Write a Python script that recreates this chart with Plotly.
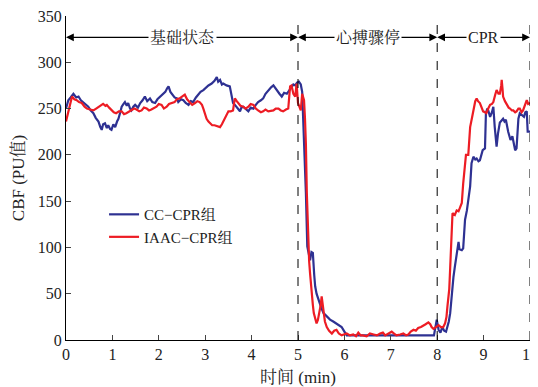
import plotly.graph_objects as go

# ---- data ----
cc_t = [0.00,0.05,0.10,0.16,0.22,0.27,0.32,0.37,0.42,0.48,0.53,0.59,0.64,0.70,0.74,0.77,0.80,0.84,0.88,0.91,
        0.95,0.98,1.02,1.06,1.10,1.13,1.17,1.20,1.24,1.27,1.31,1.34,1.38,1.41,1.45,1.49,1.55,1.60,1.65,1.70,
        1.75,1.81,1.86,1.92,1.97,2.03,2.08,2.14,2.18,2.21,2.25,2.28,2.34,2.39,2.42,2.48,2.53,2.58,2.64,2.69,
        2.74,2.80,2.85,2.90,2.96,3.02,3.07,3.14,3.20,3.25,3.28,3.32,3.36,3.39,3.46,3.53,3.57,3.60,3.64,3.68,
        3.72,3.75,3.78,3.82,3.88,3.93,3.98,4.04,4.09,4.14,4.20,4.25,4.30,4.36,4.42,4.47,4.51,4.54,4.60,4.65,
        4.70,4.76,4.81,4.86,4.90,4.94,4.98,5.02,5.06,5.09,5.11,5.13,5.15,5.17,5.20,5.23,5.26,5.29,5.32,5.35,
        5.37,5.40,5.44,5.50,5.55,5.62,5.69,5.76,5.83,5.90,5.94,6.00,6.05,7.93,7.96,7.99,8.03,8.07,8.11,8.15,
        8.19,8.22,8.25,8.28,8.31,8.35,8.38,8.43,8.46,8.48,8.53,8.56,8.60,8.64,8.67,8.71,8.74,8.78,8.82,8.85,
        8.89,8.92,8.98,9.03,9.05,9.08,9.10,9.14,9.18,9.21,9.24,9.28,9.31,9.35,9.37,9.42,9.45,9.48,9.53,9.58,
        9.62,9.64,9.68,9.71,9.75,9.78,9.82,9.87,9.90,9.93,9.95,10.0]
cc_v = [250,259,262,266,262,263,259,257,254,252,248,245,240,236,230,227,233,234,229,232,
        228,227,233,230,236,239,246,252,255,257,253,256,250,248,252,254,251,256,259,263,
        258,261,257,256,260,263,265,268,272,274,268,266,262,261,257,260,259,256,254,258,
        257,262,265,268,270,273,275,277,280,284,279,281,276,277,275,274,265,256,254,252,
        249,247,251,252,249,247,251,250,254,257,259,261,266,270,273,275,272,270,266,263,
        267,266,270,274,276,275,278,279,276,268,241,220,202,159,101,92,86,95,94,70,
        58,50,43,35,29,25,22,20,18,16,14,9,5,5,15,22,11,8,14,10,
        9,14,20,29,50,68,79,94,106,98,97,99,130,140,151,166,191,198,195,196,
        193,194,205,207,245,250,248,241,246,252,230,209,223,235,236,239,236,238,225,216,
        220,216,205,207,239,245,243,241,246,247,225,225]

iaac_t = [0.00,0.03,0.05,0.09,0.13,0.18,0.23,0.28,0.34,0.40,0.45,0.52,0.59,0.65,0.70,0.75,0.80,0.85,0.88,0.93,
          0.98,1.03,1.08,1.14,1.20,1.25,1.30,1.36,1.41,1.47,1.52,1.58,1.63,1.68,1.74,1.79,1.84,1.90,1.95,2.00,
          2.06,2.11,2.17,2.22,2.28,2.34,2.39,2.45,2.50,2.56,2.61,2.67,2.72,2.78,2.83,2.88,2.93,2.96,3.00,3.03,
          3.07,3.10,3.15,3.20,3.26,3.32,3.36,3.39,3.44,3.50,3.55,3.60,3.62,3.64,3.68,3.71,3.76,3.82,3.87,3.93,
          3.98,4.04,4.09,4.14,4.20,4.25,4.30,4.36,4.42,4.47,4.52,4.58,4.63,4.68,4.74,4.79,4.81,4.83,4.86,4.88,
          4.90,4.94,4.97,5.00,5.03,5.06,5.09,5.13,5.15,5.17,5.19,5.22,5.24,5.26,5.29,5.32,5.34,5.37,5.40,5.43,
          5.46,5.49,5.51,5.53,5.55,5.58,5.62,5.67,5.73,5.78,5.83,5.88,5.94,6.00,6.05,6.12,6.19,6.25,6.30,6.35,
          6.40,6.48,6.55,6.63,6.70,6.77,6.83,6.88,6.95,7.02,7.07,7.12,7.20,7.27,7.33,7.38,7.43,7.49,7.54,7.59,
          7.65,7.70,7.75,7.81,7.85,7.88,7.92,7.95,8.00,8.03,8.08,8.13,8.17,8.20,8.22,8.26,8.28,8.30,8.31,8.33,
          8.38,8.42,8.46,8.50,8.53,8.56,8.60,8.62,8.67,8.69,8.71,8.75,8.78,8.82,8.85,8.88,8.92,8.96,8.99,9.03,
          9.06,9.10,9.14,9.18,9.21,9.25,9.28,9.32,9.35,9.38,9.39,9.41,9.42,9.46,9.50,9.54,9.57,9.61,9.64,9.68,
          9.71,9.75,9.78,9.82,9.85,9.89,9.93,9.96,10.0]
iaac_v = [236,242,248,256,263,260,259,257,256,252,250,249,248,250,252,254,255,253,254,251,
          248,246,245,247,247,244,245,247,248,250,249,247,248,251,250,248,249,251,252,255,
          254,250,252,255,256,257,260,261,263,265,260,257,254,256,258,257,254,250,244,239,
          236,234,232,232,231,230,233,236,242,247,247,248,255,261,258,256,253,252,250,252,
          255,254,250,248,246,247,249,247,248,248,250,250,248,247,249,250,262,274,275,268,
          266,263,277,256,252,248,266,259,240,212,159,101,85,72,51,38,29,22,18,22,
          29,38,47,40,29,20,14,10,7,10,11,7,5,6,7,5,6,4,8,5,
          5,4,7,6,5,7,8,5,7,9,7,5,6,7,5,6,9,11,10,13,
          14,16,17,19,17,14,12,13,15,16,14,14,18,25,36,55,78,100,119,137,
          135,140,139,144,148,169,190,200,200,215,230,240,248,258,261,258,256,250,247,246,
          245,250,254,255,257,265,270,266,266,275,281,270,263,258,254,251,250,248,248,246,
          247,250,250,246,248,253,259,255,256]

phase_bounds = [0, 5, 8, 10]
phase_labels = ["基础状态", "心搏骤停", "CPR"]
x_ticks = [0, 1, 2, 3, 4, 5, 6, 7, 8, 9, 10]
y_ticks = [0, 50, 100, 150, 200, 250, 300, 350]

FONT = "Liberation Serif, Noto Serif CJK SC, Noto Sans CJK SC, serif"
TXT = "#222222"

fig = go.Figure()
fig.add_trace(go.Scatter(x=cc_t, y=cc_v, mode="lines", name="CC−CPR组",
                         line=dict(color="#2E3192", width=2.2)))
fig.add_trace(go.Scatter(x=iaac_t, y=iaac_v, mode="lines", name="IAAC−CPR组",
                         line=dict(color="#ED1C24", width=2.2)))

# dashed phase separators
for b in phase_bounds[1:]:
    fig.add_shape(type="line", x0=b, x1=b, y0=0, y1=354, xref="x", yref="y",
                  line=dict(color="black", width=1, dash="dash"))

# double-headed arrows with labels
arrow_y = 327
for i, lab in enumerate(phase_labels):
    a, b = phase_bounds[i], phase_bounds[i + 1]
    mid = (a + b) / 2
    for end in (a, b):
        fig.add_annotation(x=end, y=arrow_y, ax=mid, ay=arrow_y, xref="x", yref="y",
                           axref="x", ayref="y", text="", showarrow=True,
                           arrowhead=2, arrowsize=1.3, arrowwidth=1.2, arrowcolor="black",
                           standoff=0, startstandoff=0)
    fig.add_annotation(x=mid, y=arrow_y, xref="x", yref="y", text=lab, showarrow=False,
                       bgcolor="white", font=dict(family=FONT, size=16, color=TXT),
                       borderpad=1)

# axis titles
fig.add_annotation(x=0.5, y=-0.117, xref="paper", yref="paper", text="时间 (min)",
                   showarrow=False, yanchor="middle", xanchor="center",
                   font=dict(family=FONT, size=17, color=TXT))
fig.add_annotation(x=-0.103, y=0.5, xref="paper", yref="paper", text="CBF (PU值)",
                   showarrow=False, textangle=-90, xanchor="center", yanchor="middle",
                   font=dict(family=FONT, size=17, color=TXT))

# the page body adds an 8px offset, so the figure is 8px smaller on each side
fig.update_layout(
    width=530, height=379,
    margin=dict(l=58, r=8, t=8, b=47, autoexpand=False),
    paper_bgcolor="white", plot_bgcolor="white",
    font=dict(family=FONT, size=16, color=TXT),
    showlegend=True,
    legend=dict(x=0.082, y=0.438, xanchor="left", yanchor="top",
                bgcolor="rgba(0,0,0,0)", font=dict(family=FONT, size=15, color=TXT),
                itemwidth=30, tracegroupgap=0),
)
fig.update_xaxes(range=[0, 10], tickvals=x_ticks, ticks="inside", ticklen=5,
                 showline=True, linecolor="black", linewidth=1, showgrid=False,
                 zeroline=False, automargin=False, tickfont=dict(size=16),
                 ticklabeloverflow="allow")
fig.update_yaxes(range=[0, 350], tickvals=y_ticks, ticks="inside", ticklen=5,
                 showline=True, linecolor="black", linewidth=1, showgrid=False,
                 zeroline=False, automargin=False, tickfont=dict(size=16),
                 ticklabeloverflow="allow")

fig.write_html("out.html")
